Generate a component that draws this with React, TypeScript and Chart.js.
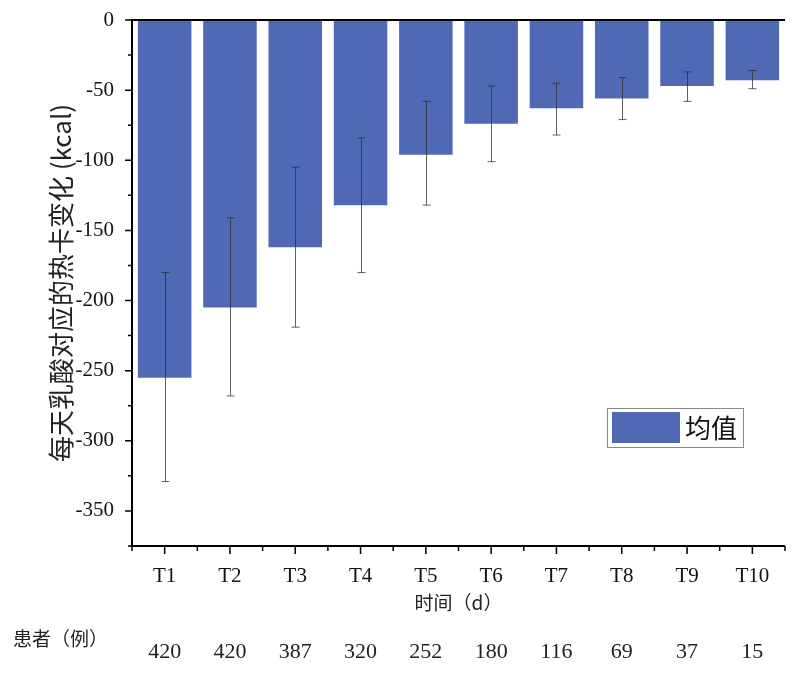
import React, { useEffect, useRef } from 'react';
import { Chart, registerables } from 'chart.js';

Chart.register(...registerables);

const categories = ['T1', 'T2', 'T3', 'T4', 'T5', 'T6', 'T7', 'T8', 'T9', 'T10'];
const meanValues = [-255, -205, -162, -132, -96, -74, -63, -56, -47, -43];
const errorUpper = [-180, -141, -105, -84, -58, -47, -45, -41, -37, -36];
const errorLower = [-329, -268, -219, -180, -132, -101, -82, -71, -58, -49];
const patientCounts = [420, 420, 387, 320, 252, 180, 116, 69, 37, 15];
const yTickValues = [0, -50, -100, -150, -200, -250, -300, -350];
const yMinorValues = [-25, -75, -125, -175, -225, -275, -325, -375];

const seriesLabel = '均值';
const yTitle = '每天乳酸对应的热卡变化 (kcal)';
const xTitle = '时间（d）';
const patientRowLabel = '患者（例）';

const BAR_COLOR = '#5069b5';
const SERIF = "'Liberation Serif', 'Noto Sans CJK SC', serif";
const CJK = "'Noto Sans CJK SC', 'Liberation Serif', sans-serif";

const customPlugin = {
  id: 'custom',
  afterDatasetsDraw(chart: any) {
    const { ctx } = chart;
    const x = chart.scales.x;
    const y = chart.scales.y;
    ctx.save();
    ctx.strokeStyle = 'rgba(45,45,45,0.75)';
    ctx.lineWidth = 1;
    categories.forEach((_, i) => {
      const px = Math.round(x.getPixelForValue(i)) + 0.5;
      const yTop = y.getPixelForValue(errorUpper[i]);
      const yBot = y.getPixelForValue(errorLower[i]);
      ctx.beginPath();
      ctx.moveTo(px, yTop);
      ctx.lineTo(px, yBot);
      ctx.moveTo(px - 4, yTop);
      ctx.lineTo(px + 4, yTop);
      ctx.moveTo(px - 4, yBot);
      ctx.lineTo(px + 4, yBot);
      ctx.stroke();
    });
    ctx.restore();
  },
  afterDraw(chart: any) {
    const { ctx, chartArea } = chart;
    const x = chart.scales.x;
    const y = chart.scales.y;
    const { left, right, top, bottom } = chartArea;
    ctx.save();
    ctx.strokeStyle = '#000';
    ctx.lineWidth = 2;
    ctx.beginPath();
    ctx.moveTo(left, top);
    ctx.lineTo(left, bottom);
    ctx.moveTo(left - 1, bottom);
    ctx.lineTo(right, bottom);
    ctx.moveTo(left - 1, top);
    ctx.lineTo(right, top);
    ctx.stroke();

    ctx.lineWidth = 1.5;
    ctx.beginPath();
    yTickValues.forEach((v) => {
      const py = y.getPixelForValue(v);
      ctx.moveTo(left, py);
      ctx.lineTo(left - 7, py);
    });
    yMinorValues.forEach((v) => {
      const py = y.getPixelForValue(v);
      ctx.moveTo(left, py);
      ctx.lineTo(left - 4, py);
    });
    categories.forEach((_, i) => {
      const px = x.getPixelForValue(i);
      ctx.moveTo(px, bottom);
      ctx.lineTo(px, bottom + 8);
    });
    for (let i = 0; i <= categories.length; i++) {
      const px = x.getPixelForValue(i - 0.5);
      ctx.moveTo(px, bottom);
      ctx.lineTo(px, bottom + 5);
    }
    ctx.stroke();

    const lx = 607;
    const ly = 408;
    ctx.fillStyle = '#fff';
    ctx.fillRect(lx, ly, 136, 39);
    ctx.strokeStyle = '#8a8a8a';
    ctx.lineWidth = 1;
    ctx.strokeRect(lx + 0.5, ly + 0.5, 136, 39);
    ctx.fillStyle = BAR_COLOR;
    ctx.fillRect(lx + 5, ly + 4, 68, 31);
    ctx.fillStyle = '#111';
    ctx.font = `26px ${CJK}`;
    ctx.textAlign = 'left';
    ctx.textBaseline = 'middle';
    ctx.fillText(seriesLabel, lx + 78, ly + 20);

    ctx.fillStyle = '#222';
    ctx.font = `19px ${CJK}`;
    ctx.textAlign = 'left';
    ctx.fillText(patientRowLabel, 13, 639);
    ctx.font = `22px ${SERIF}`;
    ctx.textAlign = 'center';
    patientCounts.forEach((n, i) => {
      ctx.fillText(String(n), x.getPixelForValue(i), 652);
    });
    ctx.restore();
  },
};

export default function App() {
  const canvasRef = useRef<HTMLCanvasElement | null>(null);

  useEffect(() => {
    document.body.style.margin = '0';
    const canvas = canvasRef.current;
    if (!canvas) return;
    const chart = new Chart(canvas, {
      type: 'bar',
      data: {
        labels: categories,
        datasets: [
          {
            label: seriesLabel,
            data: meanValues,
            backgroundColor: BAR_COLOR,
            borderWidth: 0,
            barPercentage: 0.82,
            categoryPercentage: 1,
          },
        ],
      },
      options: {
        animation: false,
        responsive: true,
        maintainAspectRatio: false,
        layout: { padding: { top: 20, right: 18, left: 0, bottom: 0 } },
        plugins: {
          legend: { display: false },
          tooltip: { enabled: false },
        },
        scales: {
          x: {
            grid: { display: false, drawTicks: false },
            border: { display: false },
            afterFit: (s: any) => {
              s.height = 129;
              s.paddingLeft = 0;
              s.paddingRight = 0;
            },
            ticks: {
              padding: 18,
              color: '#111',
              font: { family: SERIF, size: 21 },
              maxRotation: 0,
            },
            title: {
              display: true,
              text: xTitle,
              color: '#222',
              font: { family: CJK, size: 19 },
              padding: { top: 0, bottom: 61 },
            },
          },
          y: {
            min: -375,
            max: 0,
            grid: { display: false, drawTicks: false },
            border: { display: false },
            afterFit: (s: any) => {
              s.width = 132;
              s.paddingTop = 0;
              s.paddingBottom = 0;
            },
            afterBuildTicks: (s: any) => {
              s.ticks = yTickValues.map((v) => ({ value: v }));
            },
            ticks: {
              padding: 18,
              color: '#111',
              font: { family: SERIF, size: 21 },
            },
            title: {
              display: true,
              text: yTitle,
              color: '#222',
              font: { family: CJK, size: 26 },
              padding: { top: 46, bottom: 0 },
            },
          },
        },
      },
      plugins: [customPlugin],
    });
    return () => chart.destroy();
  }, []);

  return (
    <div style={{ position: 'absolute', left: 0, top: 0, width: 803, height: 675 }}>
      <canvas ref={canvasRef} />
    </div>
  );
}
